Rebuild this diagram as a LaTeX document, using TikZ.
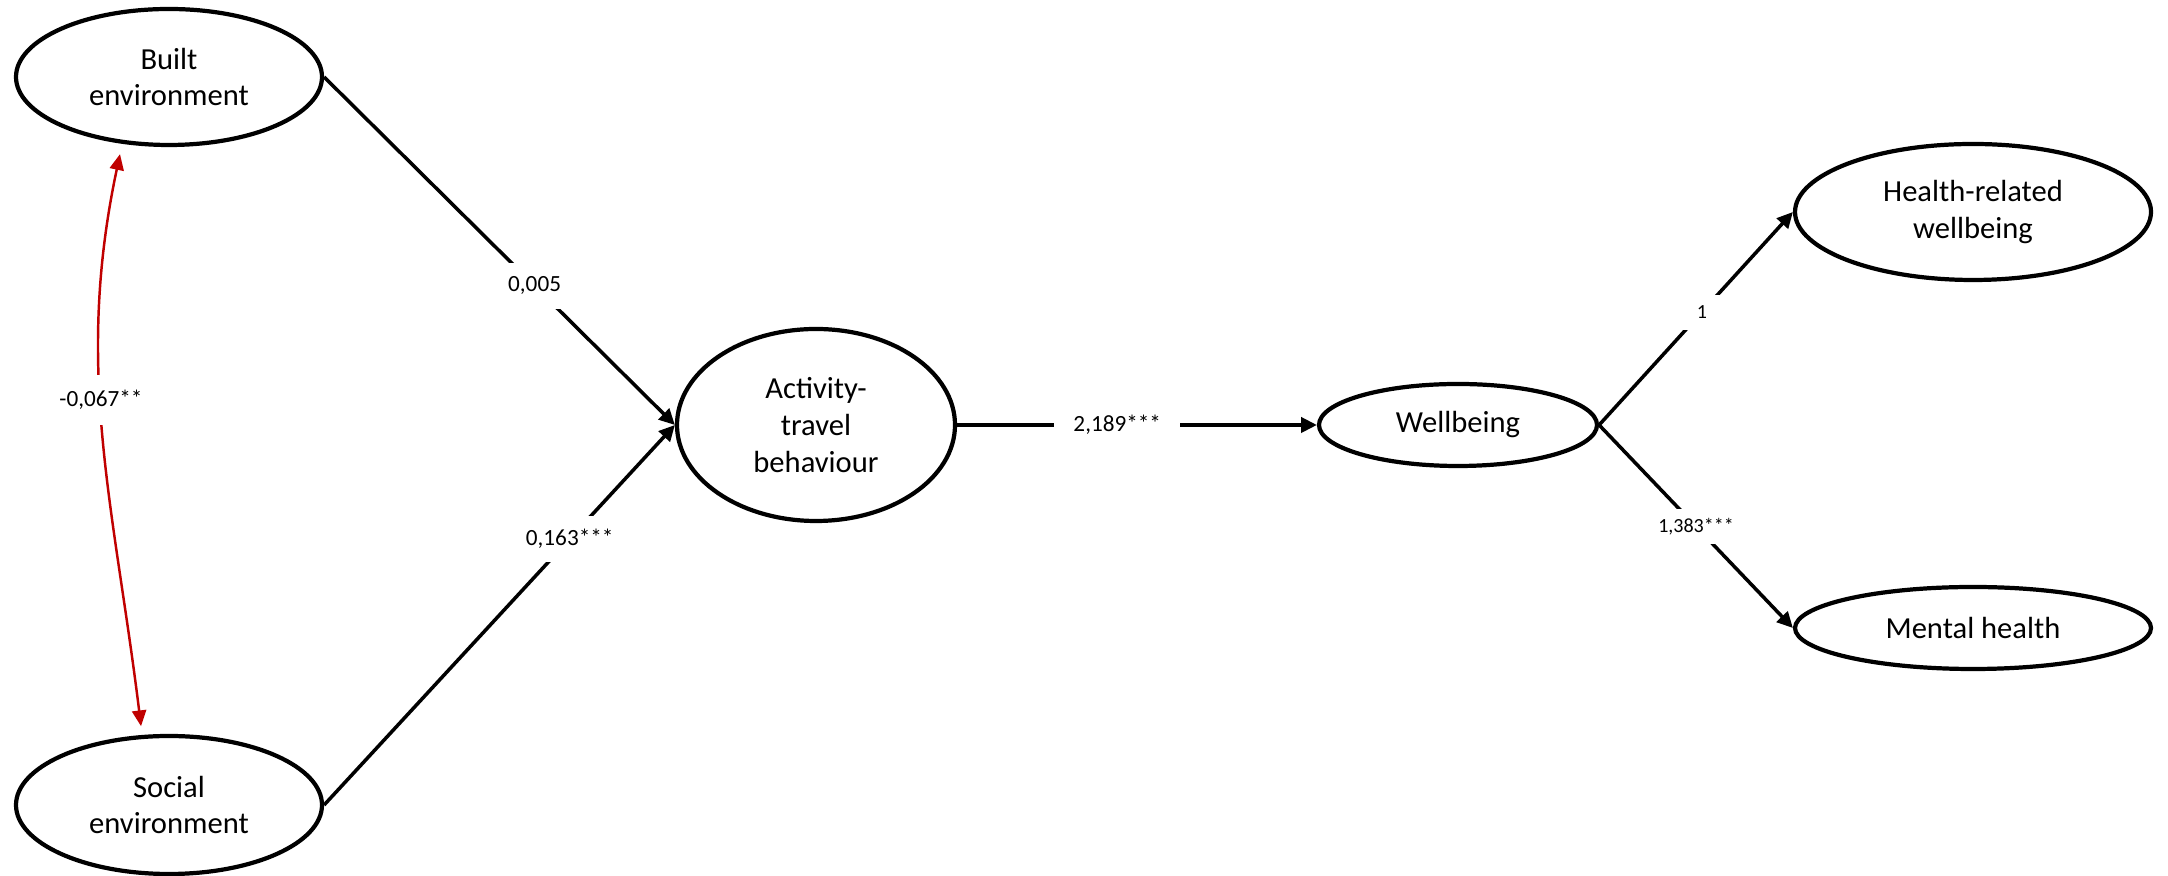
\documentclass[tikz,border=0pt]{standalone}
\usepackage{fontspec}
\setmainfont{Carlito}
\usetikzlibrary{arrows.meta, shapes.geometric}

\definecolor{rojo}{RGB}{192,0,0}

\begin{document}
\begin{tikzpicture}[
  latente/.style={draw, line width=1.2pt, ellipse, align=center, inner sep=0pt, font=\fontsize{8.7}{10.5}\selectfont},
  camino/.style={line width=1pt, -{Triangle[length=4.5pt, width=4.3pt]}},
  coef/.style={fill=white, text=black, inner sep=0pt, minimum width=36pt, minimum height=13pt, font=\fontsize{6.6}{7}\selectfont},
  coefp/.style={coef, minimum height=10pt, font=\fontsize{5.7}{6}\selectfont},
  covar/.style={rojo, line width=0.7pt, {Triangle[length=4.5pt, width=4pt]}-{Triangle[length=4.5pt, width=4pt]}}
]
\useasboundingbox (0,0) rectangle (21.68,-8.76);
% Variables latentes
\node[latente, minimum width=3.06cm, minimum height=1.36cm] (built) at (1.69,-0.77) {Built\\environment};
\node[latente, minimum width=3.06cm, minimum height=1.38cm] (social) at (1.69,-8.05) {Social\\environment};
\node[latente, minimum width=2.78cm, minimum height=1.92cm] (act) at (8.16,-4.25) {Activity-\\travel\\behaviour};
\node[latente, minimum width=2.78cm, minimum height=0.82cm] (wb) at (14.58,-4.25) {Wellbeing};
\node[latente, minimum width=3.56cm, minimum height=1.36cm] (health) at (19.73,-2.12) {Health-related\\wellbeing};
\node[latente, minimum width=3.56cm, minimum height=0.82cm] (mental) at (19.73,-6.28) {Mental health};
% Caminos
\draw[camino] (built.east) -- node[coef, pos=0.6] {0,005} (act.west);
\draw[camino] (social.east) -- node[coef, pos=0.7] {0,163***} (act.west);
\draw[camino] (act.east) -- node[coef, pos=0.445] {2,189***} (wb.west);
\draw[camino] (wb.east) -- node[coefp, pos=0.53] {1} (health.west);
\draw[camino] (wb.east) -- node[coefp, pos=0.5] {1,383***} (mental.west);
\draw[covar, shorten <=3pt, shorten >=2.5pt] (built.235) to[out=258, in=97] node[coef, minimum height=14pt, pos=0.43] {-0,067**} (social.111);
\end{tikzpicture}
\end{document}
